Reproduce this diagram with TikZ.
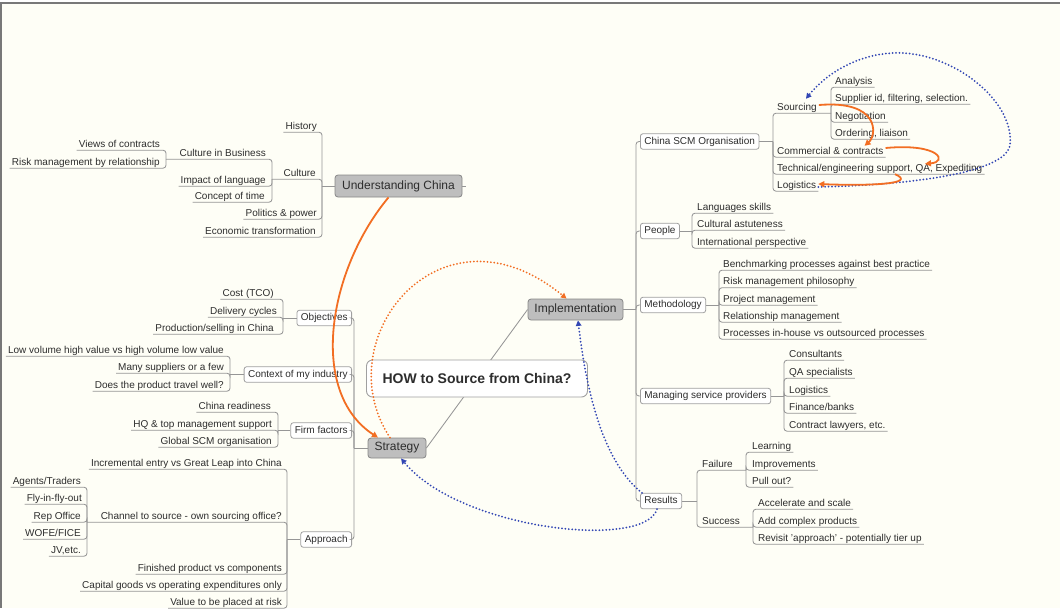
\documentclass[tikz,border=0pt]{standalone}
\usepackage{fontspec}
\setmainfont{Liberation Sans}
\usetikzlibrary{arrows.meta,calc}
\definecolor{bgc}{RGB}{254,254,246}
\definecolor{lnc}{RGB}{150,150,150}
\definecolor{txtc}{RGB}{45,45,45}
\definecolor{boxc}{RGB}{160,160,160}
\definecolor{mainfill}{RGB}{190,190,190}
\definecolor{mainline}{RGB}{135,135,135}
\definecolor{orc}{RGB}{242,110,35}
\definecolor{blc}{RGB}{50,70,180}
\definecolor{framec}{RGB}{120,120,120}
\begin{document}
\begin{tikzpicture}[x=1pt,y=-1pt,
  leafL/.style={anchor=base east, font=\fontsize{10}{12}\selectfont, text=txtc,
    inner xsep=2pt, inner ysep=0pt, text height=7pt, text depth=3pt},
  leafR/.style={leafL, anchor=base west},
  boxL/.style={draw=boxc, fill=white, rounded corners=2.5pt, line width=0.8pt,
    font=\fontsize{10}{12}\selectfont, text=txtc, inner xsep=4pt, inner ysep=0pt,
    text height=7.5pt, text depth=2pt, minimum height=15.5pt, anchor=east},
  boxR/.style={boxL, anchor=west},
  mainnode/.style={draw=mainline, fill=mainfill, rounded corners=3pt, line width=0.8pt,
    font=\fontsize{12}{14}\selectfont, text=txtc, inner sep=0pt},
  conn/.style={draw=lnc, line width=0.85pt, rounded corners=3pt},
  orsolid/.style={draw=orc, line width=1.8pt, -{Triangle[length=6pt,width=6pt]}},
  ordot/.style={draw=orc, line width=2pt, line cap=round, dash pattern=on 0pt off 3.4pt,
    -{Triangle[length=5.5pt,width=5.5pt]}},
  bldot/.style={draw=blc, line width=2pt, line cap=round, dash pattern=on 0pt off 3.4pt,
    -{Triangle[length=5.5pt,width=5.5pt]}}
]
\useasboundingbox (0,0) rectangle (1060,608);
\fill[bgc] (0,0) rectangle (1060,608);
\fill[white] (0,0) rectangle (1060,3);
\draw[framec, line width=2pt] (0,3) -- (1060,3);
\draw[framec, line width=2pt] (1,3) -- (1,608);

% ---------- main topics ----------
\node[mainnode, minimum width=127pt, minimum height=22pt] (uc) at (398.5,186) {Understanding China};
\node[mainnode, minimum width=58pt, minimum height=20pt] (strat) at (397,448) {Strategy};
\node[mainnode, minimum width=95pt, minimum height=21pt] (impl) at (575.5,309.5) {Implementation};
\coordinate (ucstub) at (466,186);
\draw[conn] (uc.east) -- (ucstub);
\draw[conn] (strat.east) -- (impl.west);
\node[draw=boxc, fill=white, rounded corners=6pt, line width=0.9pt, minimum width=221pt,
  minimum height=37pt, font=\bfseries\fontsize{14}{16}\selectfont, text=txtc] (ctr)
  at (477,378.5) {HOW to Source from China?};

% ---------- Understanding China ----------
\coordinate (tUC) at (322,0);
\coordinate (tCult) at (272,0);
\coordinate (tCib) at (166,0);
\node[leafL] (hist) at (319,129) {History};
\node[leafL] (cult) at (318,176) {Culture};
\node[leafL] (pol) at (319,216) {Politics \& power};
\node[leafL] (eco) at (318,234) {Economic transformation};
\node[leafL] (cib) at (268,156) {Culture in Business};
\node[leafL] (iol) at (268,183) {Impact of language};
\node[leafL] (cot) at (267,199) {Concept of time};
\node[leafL] (voc) at (162,147) {Views of contracts};
\node[leafL] (rmr) at (162,165) {Risk management by relationship};
\draw[conn] (uc.west) -- (uc.west -| tUC);
\draw[conn] (hist.south west) -| (uc.west -| tUC);
\draw[conn] (cult.south west -| tCult) -| (uc.west -| tUC);
\draw[conn] (pol.south west) -| (uc.west -| tUC);
\draw[conn] (eco.south west) -| (uc.west -| tUC);
\draw[conn] (cib.south west -| tCib) -| (cult.south west -| tCult);
\draw[conn] (iol.south west) -| (cult.south west -| tCult);
\draw[conn] (cot.south west) -| (cult.south west -| tCult);
\draw[conn] (voc.south west) -| (cib.south west -| tCib);
\draw[conn] (rmr.south west) -| (cib.south west -| tCib);

% ---------- Strategy ----------
\coordinate (tS) at (354,0);
\node[boxL] (obj) at (352,318) {Objectives};
\node[boxL] (ctx) at (352,374.5) {Context of my industry};
\node[boxL] (ff) at (352,430.5) {Firm factors};
\node[boxL] (appr) at (352,539.5) {Approach};
\draw[conn] (strat.west) -- (strat.west -| tS);
\draw[conn] (obj.east) -| (strat.west -| tS);
\draw[conn] (ctx.east) -| (strat.west -| tS);
\draw[conn] (ff.east) -| (strat.west -| tS);
\draw[conn] (appr.east) -| (strat.west -| tS);

\coordinate (tObj) at (283,0);
\node[leafL] (cost) at (276,296) {Cost (TCO)};
\node[leafL] (dcy) at (279,314) {Delivery cycles};
\node[leafL] (pro) at (276,331) {Production/selling in China};
\draw[conn] (obj.west) -- (obj.west -| tObj);
\draw[conn] (cost.south west) -| (obj.west -| tObj);
\draw[conn] (dcy.south west) -| (obj.west -| tObj);
\draw[conn] (pro.south west) -| (obj.west -| tObj);

\coordinate (tCtx) at (230,0);
\node[leafL] (lvh) at (226,353) {Low volume high value vs high volume low value};
\node[leafL] (msf) at (226,370) {Many suppliers or a few};
\node[leafL] (dpt) at (226,388) {Does the product travel well?};
\draw[conn] (ctx.west) -- (ctx.west -| tCtx);
\draw[conn] (lvh.south west) -| (ctx.west -| tCtx);
\draw[conn] (msf.south west) -| (ctx.west -| tCtx);
\draw[conn] (dpt.south west) -| (ctx.west -| tCtx);

\coordinate (tFF) at (278,0);
\node[leafL] (cr) at (273,409) {China readiness};
\node[leafL] (hq) at (274,427) {HQ \& top management support};
\node[leafL] (gscm) at (274,444) {Global SCM organisation};
\draw[conn] (ff.west) -- (ff.west -| tFF);
\draw[conn] (cr.south west) -| (ff.west -| tFF);
\draw[conn] (hq.south west) -| (ff.west -| tFF);
\draw[conn] (gscm.south west) -| (ff.west -| tFF);

\coordinate (tAp) at (287,0);
\coordinate (tCh) at (87,0);
\node[leafL] (inc) at (284,466) {Incremental entry vs Great Leap into China};
\node[leafL] (chn) at (284,519) {Channel to source - own sourcing office?};
\node[leafL] (fin) at (284,571) {Finished product vs components};
\node[leafL] (cap) at (284,588) {Capital goods vs operating expenditures only};
\node[leafL] (val) at (284,605) {Value to be placed at risk};
\draw[conn] (appr.west) -- (appr.west -| tAp);
\draw[conn] (inc.south west) -| (appr.west -| tAp);
\draw[conn] (chn.south west -| tCh) -| (appr.west -| tAp);
\draw[conn] (fin.south west) -| (appr.west -| tAp);
\draw[conn] (cap.south west) -| (appr.west -| tAp);
\draw[conn] (val.south west) -| (appr.west -| tAp);

\node[leafL] (agt) at (83,484) {Agents/Traders};
\node[leafL] (fly) at (84,501) {Fly-in-fly-out};
\node[leafL] (rep) at (83,519) {Rep Office};
\node[leafL] (wof) at (83,536) {WOFE/FICE};
\node[leafL] (jv) at (83,553) {JV,etc.};
\draw[conn] (agt.south west) -| (chn.south west -| tCh);
\draw[conn] (fly.south west) -| (chn.south west -| tCh);
\draw[conn] (rep.south west) -| (chn.south west -| tCh);
\draw[conn] (wof.south west) -| (chn.south west -| tCh);
\draw[conn] (jv.south west) -| (chn.south west -| tCh);

% ---------- Implementation ----------
\coordinate (tI) at (636,0);
\node[boxR] (scm) at (640,141.5) {China SCM Organisation};
\node[boxR] (ppl) at (640,231) {People};
\node[boxR] (meth) at (640,305) {Methodology};
\node[boxR] (msp) at (640,396) {Managing service providers};
\node[boxR] (res) at (640,501) {Results};
\draw[conn] (impl.east) -- (impl.east -| tI);
\draw[conn] (scm.west) -| (impl.east -| tI);
\draw[conn] (ppl.west) -| (impl.east -| tI);
\draw[conn] (meth.west) -| (impl.east -| tI);
\draw[conn] (msp.west) -| (impl.east -| tI);
\draw[conn] (res.west) -| (impl.east -| tI);

\coordinate (tScm) at (773,0);
\coordinate (tSrc) at (831,0);
\node[leafR] (src) at (775,110) {Sourcing};
\node[leafR] (cc) at (775,154) {Commercial \& contracts};
\node[leafR] (tech) at (775,171) {Technical/engineering support, QA, Expediting};
\node[leafR] (logi) at (775,188) {Logistics};
\draw[conn] (scm.east) -- (scm.east -| tScm);
\draw[conn] (src.south east -| tSrc) -| (scm.east -| tScm);
\draw[conn] (cc.south east) -| (scm.east -| tScm);
\draw[conn] (tech.south east) -| (scm.east -| tScm);
\draw[conn] (logi.south east) -| (scm.east -| tScm);

\node[leafR] (ana) at (833,84) {Analysis};
\node[leafR] (sup) at (833,101) {Supplier id, filtering, selection.};
\node[leafR] (neg) at (833,119) {Negotiation};
\node[leafR] (ord) at (833,136) {Ordering, liaison};
\draw[conn] (ana.south east) -| (src.south east -| tSrc);
\draw[conn] (sup.south east) -| (src.south east -| tSrc);
\draw[conn] (neg.south east) -| (src.south east -| tSrc);
\draw[conn] (ord.south east) -| (src.south east -| tSrc);

\coordinate (tPpl) at (692,0);
\node[leafR] (lang) at (695,210) {Languages skills};
\node[leafR] (cast) at (695,227) {Cultural astuteness};
\node[leafR] (intl) at (695,245) {International perspective};
\draw[conn] (ppl.east) -- (ppl.east -| tPpl);
\draw[conn] (lang.south east) -| (ppl.east -| tPpl);
\draw[conn] (cast.south east) -| (ppl.east -| tPpl);
\draw[conn] (intl.south east) -| (ppl.east -| tPpl);

\coordinate (tMeth) at (719,0);
\node[leafR] (bench) at (721,267) {Benchmarking processes against best practice};
\node[leafR] (rmp) at (721,284.5) {Risk management philosophy};
\node[leafR] (pm) at (721,302) {Project management};
\node[leafR] (rm) at (721,319) {Relationship management};
\node[leafR] (pio) at (721,336) {Processes in-house vs outsourced processes};
\draw[conn] (meth.east) -- (meth.east -| tMeth);
\draw[conn] (bench.south east) -| (meth.east -| tMeth);
\draw[conn] (rmp.south east) -| (meth.east -| tMeth);
\draw[conn] (pm.south east) -| (meth.east -| tMeth);
\draw[conn] (rm.south east) -| (meth.east -| tMeth);
\draw[conn] (pio.south east) -| (meth.east -| tMeth);

\coordinate (tMsp) at (784,0);
\node[leafR] (cons) at (787,357) {Consultants};
\node[leafR] (qas) at (787,375) {QA specialists};
\node[leafR] (logs) at (787,393) {Logistics};
\node[leafR] (fb) at (787,410) {Finance/banks};
\node[leafR] (cl) at (787,428) {Contract lawyers, etc.};
\draw[conn] (msp.east) -- (msp.east -| tMsp);
\draw[conn] (cons.south east) -| (msp.east -| tMsp);
\draw[conn] (qas.south east) -| (msp.east -| tMsp);
\draw[conn] (logs.south east) -| (msp.east -| tMsp);
\draw[conn] (fb.south east) -| (msp.east -| tMsp);
\draw[conn] (cl.south east) -| (msp.east -| tMsp);

\coordinate (tRes) at (697,0);
\coordinate (tFail) at (746,0);
\coordinate (tSucc) at (753,0);
\node[leafR] (fail) at (700,467) {Failure};
\node[leafR] (succ) at (700,524) {Success};
\draw[conn] (res.east) -- (res.east -| tRes);
\draw[conn] (fail.south east -| tFail) -| (res.east -| tRes);
\draw[conn] (succ.south east -| tSucc) -| (res.east -| tRes);
\node[leafR] (lrn) at (750,449) {Learning};
\node[leafR] (imp) at (750,467) {Improvements};
\node[leafR] (pull) at (750,484) {Pull out?};
\draw[conn] (lrn.south east) -| (fail.south east -| tFail);
\draw[conn] (imp.south east) -| (fail.south east -| tFail);
\draw[conn] (pull.south east) -| (fail.south east -| tFail);
\node[leafR] (acc) at (756,506) {Accelerate and scale};
\node[leafR] (acp) at (756,524) {Add complex products};
\node[leafR] (rev) at (756,541) {Revisit 'approach' - potentially tier up};
\draw[conn] (acc.south east) -| (succ.south east -| tSucc);
\draw[conn] (acp.south east) -| (succ.south east -| tSucc);
\draw[conn] (rev.south east) -| (succ.south east -| tSucc);

% ---------- relationships ----------
\draw[orsolid] ([xshift=-10pt]uc.south) .. controls (328,270) and (308,392) .. ([xshift=-19pt]strat.north);
\draw[ordot] ([xshift=-7pt]strat.north) .. controls (325,340) and (440,195) .. ([xshift=-9pt]impl.north);
\draw[bldot] ([xshift=-4pt]res.south) .. controls (645,550) and (460,530) .. ([xshift=4pt]strat.south);
\draw[bldot] ([xshift=2pt]res.north west) .. controls (600,460) and (585,380) .. ([xshift=2.5pt]impl.south);
\draw[bldot] ([yshift=-1pt]logi.east) .. controls (900,185) and (1005,175) .. (1010,145)
  .. controls (1015,100) and (950,50) .. (893,53)
  .. controls (855,55) and (825,75) .. ([xshift=9pt,yshift=4pt]src.north);
\draw[orsolid] ([yshift=3pt]src.east) .. controls (880,100) and (877,135) .. ([xshift=-21pt,yshift=1pt]cc.north east);
\draw[orsolid] ([yshift=4pt]cc.east) .. controls (940,143) and (948,162) .. ([xshift=150pt]tech.north west);
\draw[orsolid] ([xshift=120pt]tech.south west) .. controls (918,184) and (870,186) .. ([yshift=2pt]logi.east);
\end{tikzpicture}
\end{document}
